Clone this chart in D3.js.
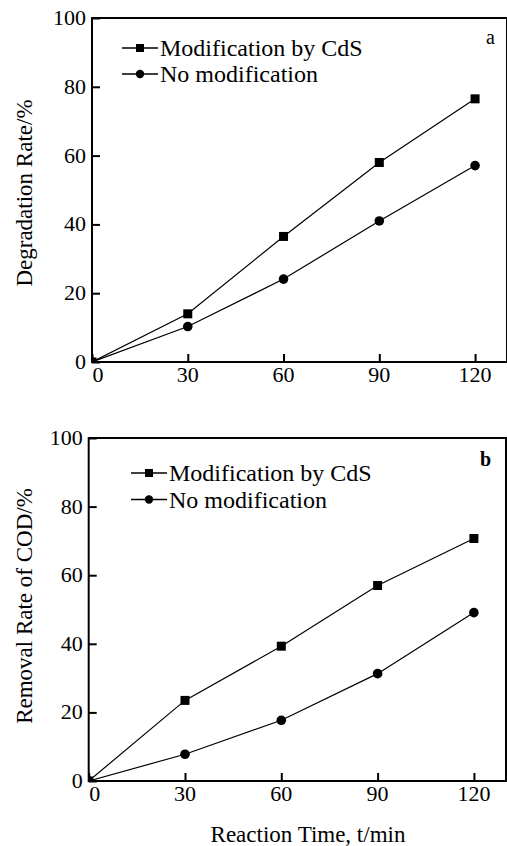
<!DOCTYPE html>
<html>
<head>
<meta charset="utf-8">
<script src="https://cdn.jsdelivr.net/npm/d3@7"></script>
<style>
  body { margin: 0; background: #fff; }
  text { font-family: "Liberation Serif", serif; }
</style>
</head>
<body>
<svg id="chart" width="507" height="846"></svg>
<script>
// values
const times = [0, 30, 60, 90, 120];
const degradCdS = [0, 14, 36.5, 58, 76.5];
const degradNone = [0, 10.3, 24.1, 41, 57.1];
const codCdS = [0, 23.5, 39.3, 57, 70.7];
const codNone = [0, 7.8, 17.7, 31.3, 49.1];

const xTicks = [0, 30, 60, 90, 120];
const yTicks = [0, 20, 40, 60, 80, 100];
const seriesNames = ["Modification by CdS", "No modification"];

const FONT = "Liberation Serif";
const svg = d3.select("#chart");

// one panel = framed plot with two series
function panel(opts) {
  const { left, right, top, bottom, id } = opts;
  const x = d3.scaleLinear().domain([0, 130]).range([left, right]);
  const y = d3.scaleLinear().domain([0, 100]).range([bottom, top]);
  const g = svg.append("g");

  g.append("clipPath").attr("id", id)
    .append("rect")
    .attr("x", left).attr("y", top)
    .attr("width", right - left).attr("height", bottom - top);

  // inward ticks
  const xAxis = d3.axisTop(x).tickValues(xTicks).tickSize(8).tickFormat("");
  g.append("g").attr("transform", `translate(0,${bottom})`).call(xAxis)
    .call(s => s.select(".domain").remove())
    .call(s => s.selectAll("line").attr("stroke", "#000").attr("stroke-width", 2));
  const yAxis = d3.axisRight(y).tickValues(yTicks).tickSize(8).tickFormat("");
  g.append("g").attr("transform", `translate(${left},0)`).call(yAxis)
    .call(s => s.select(".domain").remove())
    .call(s => s.selectAll("line").attr("stroke", "#000").attr("stroke-width", 2));

  // tick labels
  g.selectAll(".xl").data(xTicks).join("text")
    .attr("font-family", FONT)
    .attr("x", d => x(d) + (d === 0 ? 6 : 0))
    .attr("y", bottom + 20)
    .attr("text-anchor", "middle")
    .attr("font-size", 22)
    .text(d => d);
  g.selectAll(".yl").data(yTicks).join("text")
    .attr("font-family", FONT)
    .attr("x", left - 6)
    .attr("y", d => y(d) + 7)
    .attr("text-anchor", "end")
    .attr("font-size", 22)
    .text(d => d);

  // frame
  g.append("rect")
    .attr("x", left).attr("y", top)
    .attr("width", right - left).attr("height", bottom - top)
    .attr("fill", "none").attr("stroke", "#000").attr("stroke-width", 2);

  const line = d3.line().x((d, i) => x(times[i])).y(d => y(d));
  const plot = g.append("g").attr("clip-path", `url(#${id})`);
  [opts.a, opts.b].forEach((vals, k) => {
    plot.append("path").datum(vals)
      .attr("d", line).attr("fill", "none")
      .attr("stroke", "#000").attr("stroke-width", 1.2);
    if (k === 0) {
      plot.selectAll(null).data(vals).join("rect")
        .attr("x", (d, i) => x(times[i]) - 4.5)
        .attr("y", d => y(d) - 4.5)
        .attr("width", 9).attr("height", 9);
    } else {
      plot.selectAll(null).data(vals).join("circle")
        .attr("cx", (d, i) => x(times[i]))
        .attr("cy", d => y(d))
        .attr("r", 4.8);
    }
  });

  // legend
  seriesNames.forEach((name, k) => {
    const ly = opts.legY + k * opts.legStep;
    const lx = opts.legX;
    g.append("line")
      .attr("x1", lx).attr("x2", lx + 36)
      .attr("y1", ly).attr("y2", ly)
      .attr("stroke", "#000").attr("stroke-width", 1.5);
    if (k === 0) {
      g.append("rect").attr("x", lx + 14).attr("y", ly - 4).attr("width", 8).attr("height", 8);
    } else {
      g.append("circle").attr("cx", lx + 18).attr("cy", ly).attr("r", 4.2);
    }
    g.append("text")
      .attr("font-family", FONT)
      .attr("x", lx + 38).attr("y", ly + 8)
      .attr("font-size", 24)
      .text(name);
  });

  g.append("text")
    .attr("font-family", FONT)
    .attr("x", opts.tagX).attr("y", opts.tagY)
    .attr("font-size", 20)
    .attr("font-weight", opts.tagBold ? "bold" : "normal")
    .text(opts.tag);

  g.append("text")
    .attr("font-family", FONT)
    .attr("transform", `translate(${opts.titleX},${opts.titleY}) rotate(-90)`)
    .attr("text-anchor", "middle")
    .attr("font-size", 23)
    .text(opts.title);
}

panel({
  id: "clipA", left: 92, right: 507, top: 18, bottom: 362,
  a: degradCdS, b: degradNone,
  legX: 122, legY: 48, legStep: 26,
  tag: "a", tagX: 486, tagY: 44,
  title: "Degradation Rate/%", titleX: 32, titleY: 193
});

panel({
  id: "clipB", left: 88.7, right: 506, top: 438, bottom: 781,
  a: codCdS, b: codNone,
  legX: 131, legY: 473, legStep: 26.5,
  tag: "b", tagX: 480, tagY: 466, tagBold: true,
  title: "Removal Rate of COD/%", titleX: 32, titleY: 606
});

svg.append("text")
  .attr("font-family", FONT)
  .attr("x", 308).attr("y", 842)
  .attr("text-anchor", "middle")
  .attr("font-size", 23)
  .text("Reaction Time, t/min");
</script>
</body>
</html>
